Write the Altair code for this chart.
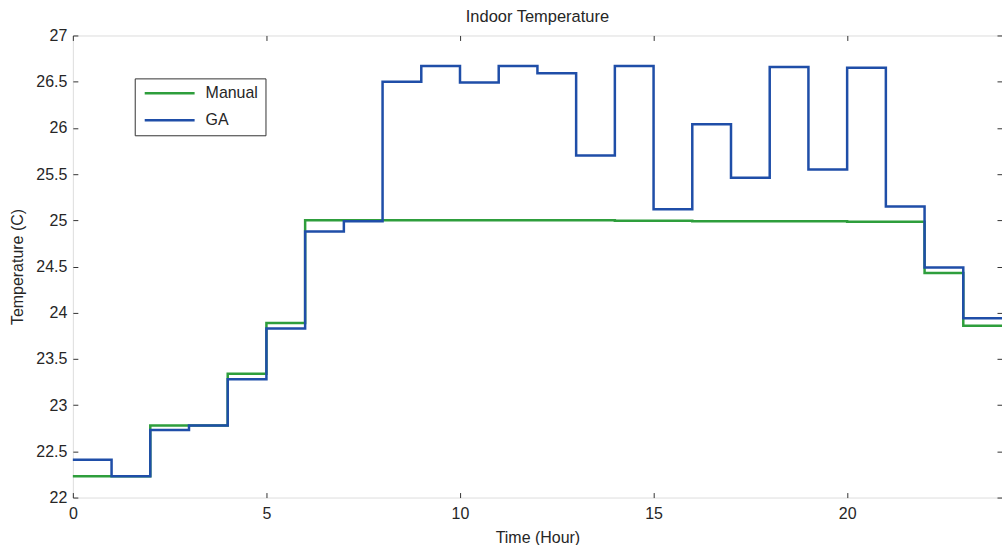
import altair as alt
import pandas as pd

# Data (hourly step values; last value repeated at hour 24)
hours = list(range(25))
manual = [22.23, 22.23, 22.78, 22.78, 23.34, 23.89, 25.00, 25.00, 25.00, 25.00,
          25.00, 25.00, 25.00, 25.00, 24.995, 24.995, 24.99, 24.99, 24.99, 24.99,
          24.985, 24.985, 24.43, 23.86, 23.86]
ga = [22.41, 22.23, 22.73, 22.78, 23.28, 23.83, 24.88, 24.99, 26.50, 26.67,
      26.49, 26.67, 26.59, 25.70, 26.67, 25.12, 26.04, 25.46, 26.66, 25.55,
      26.65, 25.15, 24.49, 23.94, 23.94]
series_names = ["Manual", "GA"]
series_colors = ["#2e9e3c", "#1f4ea8"]
x_ticks = [0, 5, 10, 15, 20]
y_ticks = [22, 22.5, 23, 23.5, 24, 24.5, 25, 25.5, 26, 26.5, 27]

df = pd.concat([
    pd.DataFrame({"hour": hours, "temp": manual, "series": "Manual"}),
    pd.DataFrame({"hour": hours, "temp": ga, "series": "GA"}),
], ignore_index=True)

W, H = 931, 463
FONT = "Liberation Sans"
TXT = "#262626"

xscale = alt.Scale(domain=[0, 24], nice=False, zero=False)
yscale = alt.Scale(domain=[22, 27], nice=False, zero=False)

base = alt.Chart(df)

lines = base.mark_line(interpolate="step-after", strokeWidth=2.5).encode(
    x=alt.X("hour:Q", scale=xscale,
            axis=alt.Axis(title="Time (Hour)", values=x_ticks, ticks=False, domain=False,
                          grid=False, labelPadding=8, labelFontSize=16, titleFontSize=16,
                          titlePadding=8, labelFont=FONT, titleFont=FONT, labelFlush=False,
                          labelColor=TXT, titleColor=TXT, titleFontWeight="normal")),
    y=alt.Y("temp:Q", scale=yscale,
            axis=alt.Axis(title="Temperature (C)", values=y_ticks, ticks=False, domain=False,
                          grid=False, labelPadding=6, labelFontSize=16, titleFontSize=16,
                          titlePadding=10, labelFont=FONT, titleFont=FONT, format="~g",
                          labelFlush=False,
                          labelColor=TXT, titleColor=TXT, titleFontWeight="normal")),
    color=alt.Color("series:N",
                    scale=alt.Scale(domain=series_names, range=series_colors),
                    sort=series_names,
                    legend=alt.Legend(title=None, orient="none", legendX=62, legendY=43,
                                      direction="vertical", symbolType="M-5,0H5",
                                      symbolSize=100, symbolStrokeWidth=2.5,
                                      symbolOffset=20, labelOffset=28,
                                      labelFontSize=16, labelFont=FONT, labelColor=TXT,
                                      strokeColor="#333", fillColor="white",
                                      padding=7, rowPadding=11)),
)

tick_axis = dict(labels=False, title=None, domain=False, grid=False, ticks=True,
                 tickSize=5, tickColor="#333", tickWidth=1)

inner1 = base.mark_line(opacity=0).encode(
    x=alt.X("hour:Q", scale=xscale, axis=alt.Axis(orient="top", offset=-H, values=x_ticks, **tick_axis)),
    y=alt.Y("temp:Q", scale=yscale, axis=alt.Axis(orient="right", offset=-W, values=y_ticks, **tick_axis)),
)
inner2 = base.mark_line(opacity=0).encode(
    x=alt.X("hour:Q", scale=xscale, axis=alt.Axis(orient="bottom", offset=-H, values=x_ticks, **tick_axis)),
    y=alt.Y("temp:Q", scale=yscale, axis=alt.Axis(orient="left", offset=-W, values=y_ticks, **tick_axis)),
)

chart = alt.layer(lines, inner1, inner2).resolve_axis(
    x="independent", y="independent"
).properties(
    width=W, height=H,
    title=alt.TitleParams("Indoor Temperature", fontSize=16.5, font=FONT, fontWeight="normal",
                          color=TXT, offset=2, anchor="middle"),
    autosize=alt.AutoSizeParams(type="none"),
    padding={"left": 73, "top": 35, "right": 0, "bottom": 47},
).configure_view(stroke="#444", strokeWidth=1.2).configure(background="white")

chart.save("out.html", embed_options={"renderer": "svg", "actions": False})
